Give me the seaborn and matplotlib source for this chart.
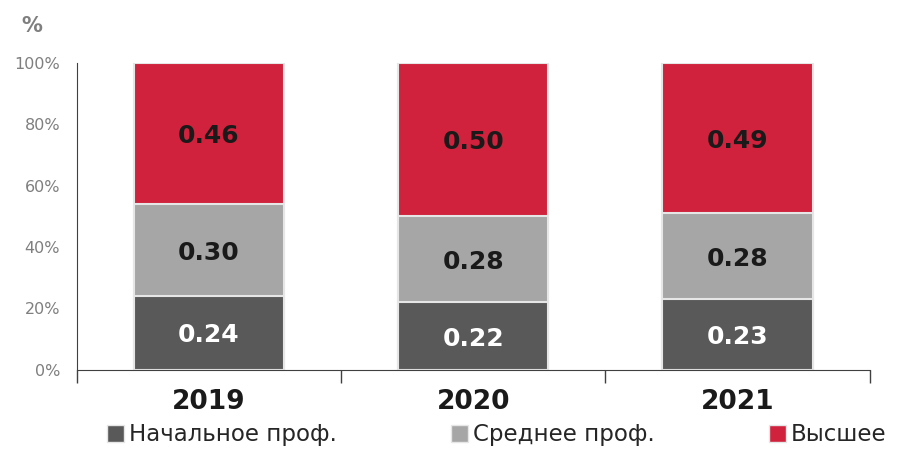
import numpy as np
import pandas as pd
import seaborn as sns
import matplotlib.pyplot as plt
from matplotlib.patches import Patch


years = ['2019', '2020', '2021']
levels = ['Начальное проф.', 'Среднее проф.', 'Высшее']
initial = [0.24, 0.22, 0.23]
secondary = [0.30, 0.28, 0.28]
higher = [0.46, 0.50, 0.49]
colors = ['#595959', '#a6a6a6', '#d0223c']
label_colors = ['white', '#1a1a1a', '#1a1a1a']

sns.set_style('white')
plt.rcParams['font.family'] = ['DejaVu Sans']

shares = np.array([initial, secondary, higher])
tops = np.cumsum(shares, axis=0)

fig = plt.figure(figsize=(9.03, 4.51), dpi=100)
ax = fig.add_axes([0.085, 0.18, 0.878, 0.68])

# draw from the full stack down so lower segments sit on top
for i in range(2, -1, -1):
    df = pd.DataFrame({'year': years, 'top': tops[i]})
    sns.barplot(data=df, x='year', y='top', color=colors[i], width=0.57,
                edgecolor='#e6e6e6', linewidth=1.5, saturation=1, ax=ax)

for i in range(3):
    for j in range(3):
        mid = tops[i][j] - shares[i][j] / 2
        ax.text(j, mid - 0.008, f'{shares[i][j]:.2f}', ha='center', va='center',
                fontsize=18, fontweight='bold', color=label_colors[i])

ax.set_ylim(0, 1)
ax.set_xlim(-0.5, 2.5)
ax.set_yticks(np.arange(0, 1.01, 0.2))
ax.set_yticklabels([f'{int(round(v * 100))}%' for v in np.arange(0, 1.01, 0.2)],
                   color='#7f7f7f', fontsize=11.5)
ax.set_xticks([0, 1, 2])
ax.set_xticklabels(years, fontsize=19, fontweight='bold', color='#1a1a1a')
ax.set_xticks([-0.5, 0.5, 1.5, 2.5], minor=True)
ax.tick_params(axis='x', which='minor', bottom=True, length=9, width=1,
               color='#404040', direction='out')
ax.tick_params(axis='x', which='major', length=0, pad=14)
ax.tick_params(axis='y', length=0, pad=12)
ax.set_xlabel('')
ax.set_ylabel('')
for s in ['top', 'right']:
    ax.spines[s].set_visible(False)
ax.spines['left'].set_color('#404040')
ax.spines['bottom'].set_color('#404040')

fig.text(0.024, 0.93, '%', fontsize=15, fontweight='bold', color='#7f7f7f')

handles = [Patch(facecolor=c, edgecolor='#e6e6e6') for c in colors]
fig.legend(handles, levels, loc='lower center', bbox_to_anchor=(0.55, -0.035), ncol=3,
           frameon=False, fontsize=16.5, handlelength=0.75, handleheight=0.75,
           handletextpad=0.2, columnspacing=5.0)

fig.savefig('out.png', dpi=100)
